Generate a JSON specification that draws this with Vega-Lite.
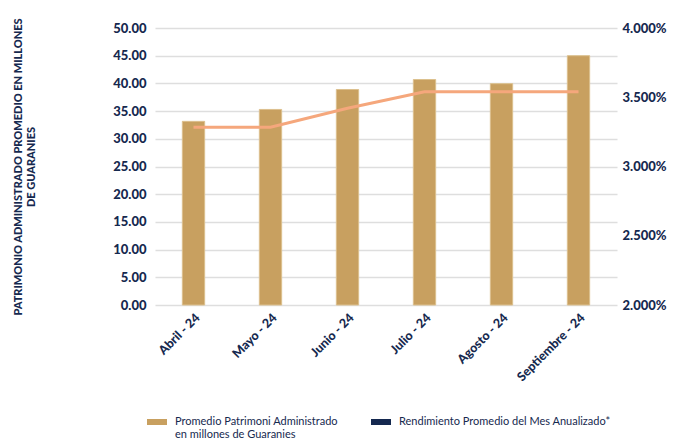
{
  "$schema": "https://vega.github.io/schema/vega-lite/v6.json",
  "width": 462,
  "height": 277,
  "autosize": {"type": "none"},
  "padding": {"left": 155, "top": 28, "right": 67, "bottom": 137},
  "background": "white",
  "config": {
    "view": {"stroke": null},
    "font": "Lato",
    "axis": {"labelColor": "#16294f", "titleColor": "#16294f", "labelFont": "Lato", "titleFont": "Lato"},
    "legend": {"labelColor": "#16294f", "labelFont": "Lato"}
  },
  "data": {
    "values": [
      {"mes": "Abril - 24", "patrimonio": 33.15, "rendimiento": 0.03283, "serie": "Promedio Patrimoni Administrado"},
      {"mes": "Mayo - 24", "patrimonio": 35.3, "rendimiento": 0.03283, "serie": "Promedio Patrimoni Administrado"},
      {"mes": "Junio - 24", "patrimonio": 38.9, "rendimiento": 0.0342, "serie": "Promedio Patrimoni Administrado"},
      {"mes": "Julio - 24", "patrimonio": 40.7, "rendimiento": 0.0354, "serie": "Promedio Patrimoni Administrado"},
      {"mes": "Agosto - 24", "patrimonio": 39.95, "rendimiento": 0.0354, "serie": "Promedio Patrimoni Administrado"},
      {"mes": "Septiembre - 24", "patrimonio": 45.0, "rendimiento": 0.0354, "serie": "Promedio Patrimoni Administrado"}
    ]
  },
  "encoding": {
    "x": {
      "field": "mes",
      "type": "nominal",
      "sort": null,
      "scale": {"paddingInner": 0.71, "paddingOuter": 0.355},
      "axis": {
        "title": null,
        "labelAngle": -45,
        "labelFontSize": 12.5,
        "labelFontWeight": 900,
        "ticks": false,
        "domain": false,
        "labelPadding": 6,
        "labelAlign": "right",
        "labelBaseline": "top"
      }
    }
  },
  "layer": [
    {
      "mark": {"type": "bar", "color": "#c8a060", "stroke": "#dcc08e", "strokeWidth": 1},
      "encoding": {
        "y": {
          "field": "patrimonio",
          "type": "quantitative",
          "scale": {"domain": [0, 50]},
          "axis": {
            "values": [0, 5, 10, 15, 20, 25, 30, 35, 40, 45, 50],
            "format": ".2f",
            "title": ["PATRIMONIO ADMINISTRADO PROMEDIO EN MILLONES", "DE GUARANIES"],
            "titleFontSize": 11,
            "titleFontWeight": 900,
            "titlePadding": 76,
            "labelFontSize": 13,
            "labelFontWeight": 900,
            "labelPadding": 9,
            "ticks": false,
            "domain": false,
            "grid": true,
            "gridColor": "#dedede",
            "gridWidth": 1.5
          }
        },
        "color": {
          "field": "serie",
          "type": "nominal",
          "scale": {
            "domain": ["Promedio Patrimoni Administrado", "Rendimiento Promedio del Mes Anualizado*"],
            "range": ["#c8a060", "#14284f"]
          },
          "legend": {
            "title": null,
            "orient": "none",
            "legendX": -8,
            "legendY": 378,
            "direction": "horizontal",
            "columns": 2,
            "columnPadding": 33,
            "symbolType": "M-1,0.3L1,0.3L1,0.9L-1,0.9Z",
            "symbolSize": 400,
            "symbolStrokeWidth": 0,
            "labelFontSize": 11,
            "labelOffset": 8,
            "labelLimit": 300,
            "labelBaseline": "top",
            "labelExpr": "datum.label == 'Promedio Patrimoni Administrado' ? ['Promedio Patrimoni Administrado', 'en millones de Guaranies'] : [datum.label, ' ']"
          }
        }
      }
    },
    {
      "mark": {"type": "line", "color": "#f5a77c", "strokeWidth": 3},
      "encoding": {
        "y": {
          "field": "rendimiento",
          "type": "quantitative",
          "scale": {"domain": [0.02, 0.04]},
          "axis": {
            "orient": "right",
            "values": [0.02, 0.025, 0.03, 0.035, 0.04],
            "format": ".3%",
            "title": null,
            "labelFontSize": 13,
            "labelFontWeight": 900,
            "labelPadding": 5,
            "ticks": false,
            "domain": false,
            "grid": false
          }
        }
      }
    }
  ],
  "resolve": {"scale": {"y": "independent", "color": "independent"}}
}
